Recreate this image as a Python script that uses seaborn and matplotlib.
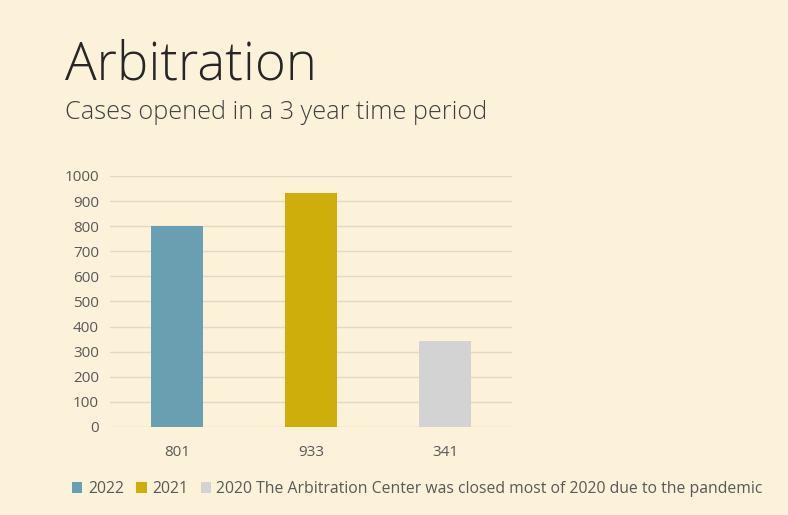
import matplotlib
matplotlib.use("Agg")
import matplotlib.pyplot as plt
import seaborn as sns
import pandas as pd

categories = ["801", "933", "341"]
values = [801, 933, 341]
series = ["2022", "2021", "2020 The Arbitration Center was closed most of 2020 due to the pandemic"]
colors = ["#6A9FB1", "#CDAE0B", "#D3D3D3"]
yticks = [0, 100, 200, 300, 400, 500, 600, 700, 800, 900, 1000]

df = pd.DataFrame({"cat": categories, "val": values, "series": series})

sns.set_style("white")
plt.rcParams['font.family'] = ['Open Sans', 'DejaVu Sans']

bg = "#FCF1D9"
fig = plt.figure(figsize=(7.88, 5.15), dpi=100, facecolor=bg)
ax = fig.add_axes([0.1396, 0.1709, 0.5101, 0.4874])
ax.set_facecolor(bg)

sns.barplot(data=df, x="cat", y="val", hue="series", order=categories,
            hue_order=series, palette=colors, dodge=False, width=0.39,
            saturation=1, ax=ax, legend=True, linewidth=0, edgecolor="none")

ax.set_ylim(0, 1000)
ax.set_yticks(yticks)
ax.set_xlim(-0.5, 2.5)
ax.grid(axis="y", color="#E2DAC8", linewidth=1)
ax.set_axisbelow(True)
for s in ax.spines.values():
    s.set_visible(False)
ax.set_xlabel("")
ax.set_ylabel("")
ax.tick_params(axis="both", length=0, labelsize=11, labelcolor="#595959")
ax.tick_params(axis="x", pad=13)
ax.tick_params(axis="y", pad=8)

leg = ax.legend(loc="upper left", bbox_to_anchor=(-0.11, -0.19), ncol=3,
                frameon=False, fontsize=11.3, handlelength=0.65, handleheight=0.65,
                handletextpad=0.35, columnspacing=0.8, borderaxespad=0)
for t in leg.get_texts():
    t.set_color("#595959")

fig.text(0.082, 0.845, "Arbitration", fontsize=38, color="#262626",
         fontweight="light", family=["Open Sans", "DejaVu Sans"])
fig.text(0.082, 0.768, "Cases opened in a 3 year time period", fontsize=18.2,
         color="#404040", fontweight="light", family=["Open Sans", "DejaVu Sans"])

fig.savefig("out.png", dpi=100, facecolor=bg)
